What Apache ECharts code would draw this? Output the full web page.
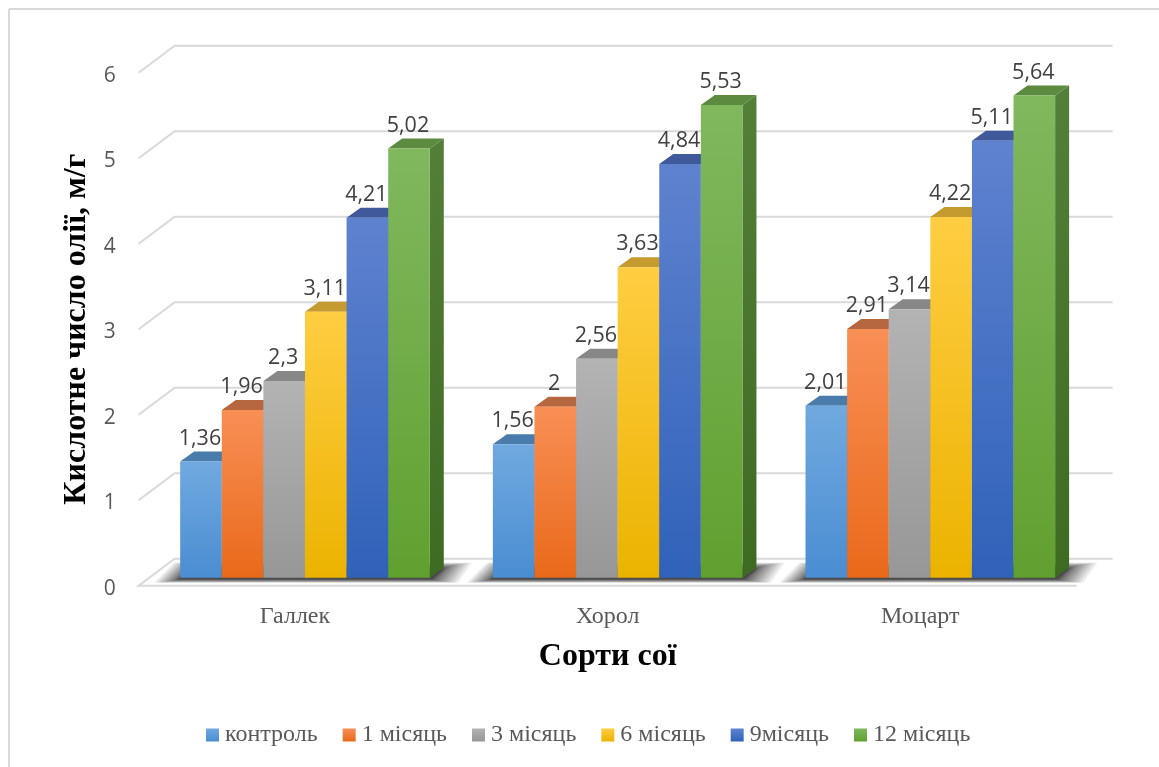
<!DOCTYPE html>
<html>
<head>
<meta charset="utf-8">
<style>html,body{margin:0;padding:0;background:#fff}#c{width:1159px;height:767px}</style>
<script src="https://cdn.jsdelivr.net/npm/echarts@6/dist/echarts.min.js"></script>
</head>
<body>
<div id="c"></div>
<script>
const categories = ['Галлек', 'Хорол', 'Моцарт'];
const seriesNames = ['контроль', '1 місяць', '3 місяць', '6 місяць', '9місяць', '12 місяць'];
const kontrol = [1.36, 1.56, 2.01];
const month1 = [1.96, 2, 2.91];
const month3 = [2.3, 2.56, 3.14];
const month6 = [3.11, 3.63, 4.22];
const month9 = [4.21, 4.84, 5.11];
const month12 = [5.02, 5.53, 5.64];
const yTicks = [0, 1, 2, 3, 4, 5, 6];
const seriesValues = [kontrol, month1, month3, month6, month9, month12];

// front colour top, front colour bottom, top face, side top, side bottom
const palette = [
  ['#70a9df', '#4a8dd2', '#4a7cab', '#3f70a0', '#2f6299'],
  ['#f88f55', '#e9691a', '#b7673f', '#a9582c', '#a0500f'],
  ['#b3b3b3', '#979797', '#878787', '#7a7a7a', '#666666'],
  ['#ffcd42', '#ebb300', '#c59a2e', '#a98520', '#98770a'],
  ['#5f82cf', '#2f62b9', '#40599a', '#34508e', '#24478a'],
  ['#80b85e', '#60a02f', '#5c8a3f', '#537f38', '#3e6b22']
];

const vgrad = (a, b) => new echarts.graphic.LinearGradient(0, 0, 0, 1, [
  { offset: 0, color: a }, { offset: 1, color: b }
]);

const DEPTH_X = 36, DEPTH_Y = 27;      // wall offset from the front plane
const BAR_DX = 10, BAR_DY = 8;         // bars stand a little behind the front plane
const SIDE_X = 14, SIDE_Y = 10;        // bar depth
const BAR_W = 41.6;
const N = seriesNames.length;
const SHADOW_LAYERS = 18;

const poly = (points, fill, z2) => ({
  type: 'polygon', z2, shape: { points }, style: { fill }, silent: true
});

const gridSeries = {
  type: 'custom', name: '_grid', coordinateSystem: 'cartesian2d', silent: true, z: 1,
  data: yTicks.map(t => [0, t]),
  encode: { x: 0, y: 1 },
  renderItem(params, api) {
    const t = api.value(1);
    const y = api.coord([0, t])[1];
    const L = params.coordSys.x, R = L + params.coordSys.width;
    const line = { stroke: '#d9d9d9', lineWidth: 2, fill: null };
    const pts = t === 0
      ? [[R, y], [L, y], [L + DEPTH_X, y - DEPTH_Y], [R + DEPTH_X, y - DEPTH_Y]]
      : [[L, y], [L + DEPTH_X, y - DEPTH_Y], [R + DEPTH_X, y - DEPTH_Y]];
    return { type: 'polyline', shape: { points: pts }, style: line, silent: true };
  }
};

const shadowSeries = {
  type: 'custom', name: '_shadow', coordinateSystem: 'cartesian2d', silent: true, z: 1,
  data: categories.map((c, i) => [i, 0]),
  encode: { x: 0, y: 1 },
  renderItem(params, api) {
    const p = api.coord([api.value(0), 0]);
    const x0 = p[0] + BAR_DX - 3 * BAR_W, x1 = p[0] + BAR_DX + 3 * BAR_W;
    const yb = p[1] - BAR_DY;
    const children = [];
    for (let k = 0; k < SHADOW_LAYERS; k++) {
      const f = 1 - k / (SHADOW_LAYERS - 1);   // 1 = faint outer layer, 0 = dark core
      const g = f * f;
      children.push({
        type: 'polygon', silent: true, z2: 1 + k,
        shape: { points: [
          [x0 - 2 - g * 24, yb + 1 + f * 4],
          [x1 + 2 + g * 26, yb + 1 + f * 4],
          [x1 + 14 + g * 28, yb - 8 - f * 7],
          [x0 + 12 - g * 18, yb - 8 - f * 7]
        ] },
        style: { fill: 'rgba(35,35,35,0.085)' }
      });
    }
    return { type: 'group', children };
  }
};

const barSeries = seriesNames.map((name, si) => ({
  type: 'custom',
  name,
  coordinateSystem: 'cartesian2d',
  z: 2,
  itemStyle: { color: vgrad(palette[si][0], palette[si][1]) },
  data: categories.map((c, i) => [i, seriesValues[si][i]]),
  encode: { x: 0, y: 1 },
  renderItem(params, api) {
    const v = api.value(1);
    const base = api.coord([api.value(0), 0]);
    const top = api.coord([api.value(0), v]);
    const c = palette[si];
    const x0 = base[0] + BAR_DX + (si - N / 2) * BAR_W, x1 = x0 + BAR_W;
    const yb = base[1] - BAR_DY, yt = top[1] - BAR_DY;
    const z = 30 + si * 3;
    return {
      type: 'group',
      children: [
        poly([[x1, yb], [x1 + SIDE_X, yb - SIDE_Y], [x1 + SIDE_X, yt - SIDE_Y], [x1, yt]], vgrad(c[3], c[4]), z),
        poly([[x0, yt], [x1, yt], [x1 + SIDE_X, yt - SIDE_Y], [x0 + SIDE_X, yt - SIDE_Y]], c[2], z + 1),
        poly([[x0, yb], [x1, yb], [x1, yt], [x0, yt]], vgrad(c[0], c[1]), z + 2),
        {
          type: 'text', z2: 100, silent: true,
          style: {
            x: (x0 + x1) / 2 - 1, y: yt - 23, text: String(v).replace('.', ','),
            align: 'center', verticalAlign: 'middle',
            fill: '#404040', font: '21.5px "Open Sans", sans-serif'
          }
        }
      ]
    };
  }
}));

const chart = echarts.init(document.getElementById('c'), null, { renderer: 'canvas' });
chart.setOption({
  animation: false,
  backgroundColor: '#ffffff',
  graphic: [
    { type: 'line', silent: true, shape: { x1: 9, y1: 9, x2: 1159, y2: 9 }, style: { stroke: '#d9d9d9', lineWidth: 2 } },
    { type: 'line', silent: true, shape: { x1: 9, y1: 9, x2: 9, y2: 767 }, style: { stroke: '#d9d9d9', lineWidth: 2 } }
  ],
  grid: { left: 138.65, top: 72.7, width: 938, height: 513, containLabel: false },
  xAxis: {
    type: 'category', data: categories,
    axisLine: { show: false }, axisTick: { show: false },
    axisLabel: { color: '#595959', fontFamily: 'Liberation Serif', fontSize: 24, margin: 19 },
    name: 'Сорти сої', nameLocation: 'middle', nameGap: 55,
    nameTextStyle: { color: '#000', fontFamily: 'Liberation Serif', fontWeight: 'bold', fontSize: 32 }
  },
  yAxis: {
    type: 'value', min: 0, max: 6, interval: 1,
    axisLine: { show: false }, axisTick: { show: false }, splitLine: { show: false },
    axisLabel: { color: '#595959', fontFamily: 'Open Sans', fontSize: 21, margin: 23, verticalAlign: 'top', lineHeight: 6 },
    name: 'Кислотне число олії, м/г', nameLocation: 'middle', nameGap: 44, nameRotate: 90,
    nameTextStyle: { color: '#000', fontFamily: 'Liberation Serif', fontWeight: 'bold', fontSize: 32 }
  },
  legend: {
    data: seriesNames, left: 201, top: 718, itemWidth: 13, itemHeight: 13, itemGap: 25,
    icon: 'rect',
    formatter: '{a|{name}}',
    textStyle: {
      rich: { a: { color: '#595959', fontFamily: 'Liberation Serif', fontSize: 24, padding: [0, 0, 0, 1] } }
    }
  },
  series: [gridSeries, shadowSeries].concat(barSeries)
});
</script>
</body>
</html>
